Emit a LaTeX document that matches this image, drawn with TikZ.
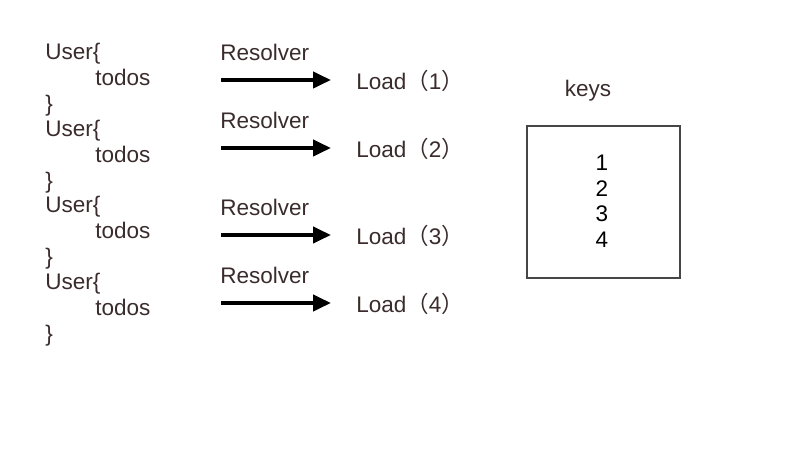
\documentclass[tikz,border=0pt]{standalone}
\usepackage{fontspec}
\setmainfont{Liberation Sans}
\newfontfamily\cjk{Noto Sans CJK SC}
\usetikzlibrary{arrows.meta}
\definecolor{txt}{HTML}{3A2C2C}
\definecolor{boxc}{HTML}{464646}
\begin{document}
\begin{tikzpicture}[x=0.75pt,y=-0.75pt,
  lbl/.style={anchor=base west,inner sep=0pt,text=txt,font=\fontsize{16.9}{19}\selectfont},
  num/.style={anchor=base,inner sep=0pt,text=black,font=\fontsize{16.9}{19}\selectfont},
  bigarrow/.style={line width=3pt,-{Triangle[length=13.5pt,width=12pt]}},
  keybox/.style={draw=boxc,line width=2.2pt}]
\useasboundingbox (0,0) rectangle (800,473);
% code blocks
\foreach \i/\b in {1/60,2/137,3/213,4/290}{
  \node[lbl] (user\i) at (45,\b) {User\{};
  \node[lbl] (todos\i) at (95,\b+25.6) {todos};
  \node[lbl] (close\i) at (45,\b+51.2) {\}};
}
% resolver rows
\foreach \i/\r/\a/\l in {1/61/80/90,2/129/148/158,3/216/235/245,4/284/303/313}{
  \node[lbl] (res\i) at (220,\r) {Resolver};
  \coordinate (as\i) at (221,\a);
  \coordinate (ae\i) at (331,\a);
  \draw[bigarrow] (as\i) -- (ae\i);
  \node[lbl] (load\i) at (356,\l) {Load{\cjk（}\i{\cjk）}};
}
% keys box
\node[lbl,anchor=base] (keys) at (588,97) {keys};
\node[keybox,minimum width=153*0.75pt,minimum height=152*0.75pt,inner sep=0pt] (box) at (603.5,202) {};
\foreach \k/\y in {1/171,2/197,3/222,4/248}{
  \node[num] (k\k) at (602,\y) {\k};
}
\end{tikzpicture}
\end{document}
